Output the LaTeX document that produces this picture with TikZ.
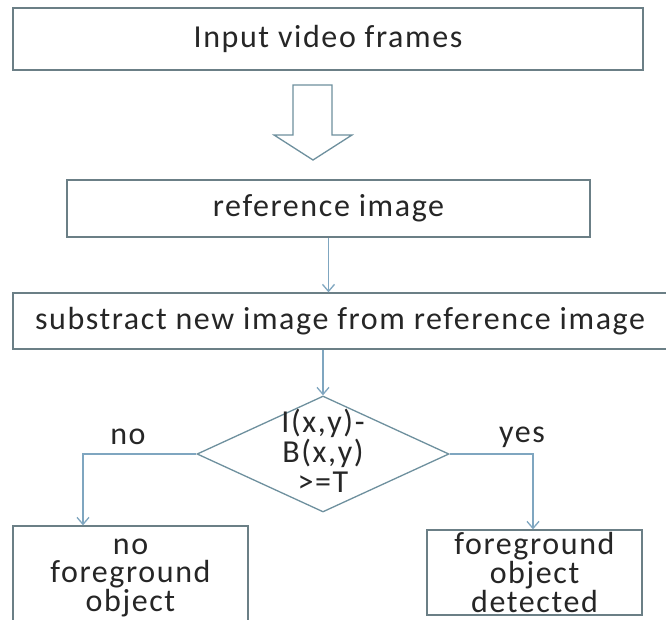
\documentclass[tikz,border=0pt]{standalone}
\usepackage{fontspec}
\setmainfont{Carlito}[LetterSpace=5]
\usetikzlibrary{shapes.geometric,arrows.meta}
\definecolor{boxc}{HTML}{6B7F86}
\definecolor{linec}{HTML}{7FA6C0}
\definecolor{dia}{HTML}{6E909E}
\definecolor{txt}{HTML}{262626}
\tikzset{
  box/.style={draw=boxc,line width=1.3pt,rectangle,inner sep=0pt,text=txt,align=center,
    font=\fontsize{32}{27.5}\selectfont},
  conn/.style={draw=linec,line width=1.3pt,-{Straight Barb[length=7pt,width=12pt]}},
  lbl/.style={text=txt,inner sep=0pt,font=\fontsize{32}{30}\selectfont,align=center},
  hollow/.style={draw=dia,line width=1.3pt,fill=white}
}
\begin{document}
\begin{tikzpicture}[x=1pt,y=-1pt]
\useasboundingbox (0,0) rectangle (666,620);
\fill[white] (0,0) rectangle (666,620);

\node[box,minimum width=630,minimum height=62] (b1) at (328,39) {Input video frames};
\node[box,minimum width=523,minimum height=57] (b2) at (328.5,208.5) {reference image};
\node[box,minimum width=654,minimum height=56] (b3) at (340,321) {substract new image from reference image};
\node[diamond,draw=dia,line width=1.3pt,minimum width=252,minimum height=116,inner sep=0pt] (d) at (323,454) {};
\node[lbl] (dt) at (323,451) {I(x,y)-\\B(x,y)\\>=T};
\node[box,minimum width=235,minimum height=104] (b4) at (130.5,578) {no\\foreground\\object};
\node[box,minimum width=215,minimum height=85] (b5) at (534.5,572.5) {foreground\\object\\detected};

\node[lbl] (no) at (128,437) {no};
\node[lbl] (yes) at (522,437) {yes};

% hollow block arrow
\draw[hollow] (293,85) -- (332,85) -- (332,135) -- (352,135) -- (313,160) -- (274,135) -- (293,135) -- cycle;

\coordinate (nl) at (83,454);
\coordinate (yr) at (533,454);
\draw[conn] (b2.south) -- (b2.south |- b3.north);
\draw[conn] (b3.south -| d.north) -- (d.north);
\draw[conn] (d.west) -- (nl) -- (nl |- b4.north);
\draw[conn] (d.east) -- (yr) -- (yr |- b5.north);
\end{tikzpicture}
\end{document}
